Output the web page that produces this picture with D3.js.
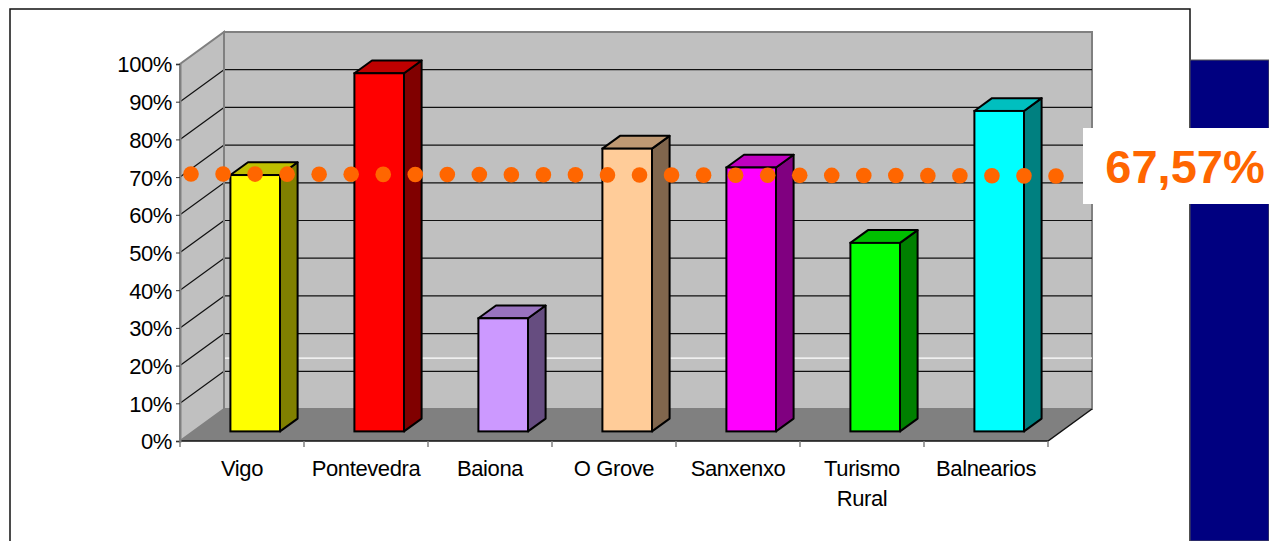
<!DOCTYPE html>
<html>
<head>
<meta charset="utf-8">
<script src="https://cdn.jsdelivr.net/npm/d3@7"></script>
<style>
  body { margin: 0; background: #fff; }
  svg { display: block; font-family: "Liberation Sans", Arial, sans-serif; }
</style>
</head>
<body>
<svg id="chart" width="1269" height="541"></svg>
<script>
const categories = ['Vigo', 'Pontevedra', 'Baiona', 'O Grove', 'Sanxenxo', 'Turismo Rural', 'Balnearios'];
const tickLabels = ['Vigo', 'Pontevedra', 'Baiona', 'O Grove', 'Sanxenxo', 'Turismo\nRural', 'Balnearios'];
const values = [0.68, 0.95, 0.30, 0.75, 0.70, 0.50, 0.85];
const faceColors = ['#FFFF00', '#FF0000', '#CC99FF', '#FFCC99', '#FF00FF', '#00FF00', '#00FFFF'];
const yTicks = [0, 0.1, 0.2, 0.3, 0.4, 0.5, 0.6, 0.7, 0.8, 0.9, 1];
const average = 0.6757;
const averageLabel = '67,57%';
const dotCount = 28;
const whiteLine = 0.135; // odd white rule on the back wall

function translate(x, y) {
    return `translate(${x}, ${y})`;
}

function shade(c, k) {
    const r = d3.rgb(c);
    return d3.rgb(r.r * k, r.g * k, r.b * k).formatHex();
}

const svg = d3.select('#chart');
const W = 1269, H = 541;

// 3d depth vector
const DX = 44, DY = -32;
const x = d3.scaleBand().domain(categories).range([180, 1048]).padding(0);
const y = d3.scaleLinear().domain([0, 1]).range([441, 64]);
const x0 = x.range()[0], x1 = x.range()[1];

// outer frame
svg.append('rect').attr('x', 10).attr('y', 9).attr('width', 1180).attr('height', H)
    .style('fill', 'none').style('stroke', '#111').style('stroke-width', 1.5);

// side wall
svg.append('polygon')
    .attr('points', [[x0, y(0)], [x0, y(1)], [x0 + DX, y(1) + DY], [x0 + DX, y(0) + DY]].join(' '))
    .style('fill', '#C0C0C0').style('stroke', '#808080').style('stroke-width', 2);

// back wall
svg.append('rect').attr('x', x0 + DX).attr('y', y(1) + DY)
    .attr('width', x1 - x0).attr('height', y(0) - y(1))
    .style('fill', '#C0C0C0').style('stroke', '#808080').style('stroke-width', 2);

// gridlines
const inner = yTicks.filter(d => d > 0 && d < 1);
svg.append('g').selectAll('line.back').data(inner).enter().append('line')
    .attr('x1', x0 + DX).attr('x2', x1 + DX)
    .attr('y1', d => y(d) + DY).attr('y2', d => y(d) + DY)
    .style('stroke', '#111').style('stroke-width', 1.2);
svg.append('g').selectAll('line.side').data(inner).enter().append('line')
    .attr('x1', x0).attr('x2', x0 + DX)
    .attr('y1', d => y(d)).attr('y2', d => y(d) + DY)
    .style('stroke', '#111').style('stroke-width', 1.2);
svg.append('line')
    .attr('x1', x0 + DX).attr('x2', x1 + DX)
    .attr('y1', y(whiteLine) + DY).attr('y2', y(whiteLine) + DY)
    .style('stroke', '#fff').style('stroke-width', 1.2);
// re-draw wall edge over the gridlines
svg.append('line').attr('x1', x0 + DX).attr('x2', x0 + DX).attr('y1', y(1) + DY).attr('y2', y(0) + DY)
    .style('stroke', '#808080').style('stroke-width', 2);

// floor
svg.append('polygon')
    .attr('points', [[x0, y(0)], [x1, y(0)], [x1 + DX, y(0) + DY], [x0 + DX, y(0) + DY]].join(' '))
    .style('fill', '#808080');
svg.append('polyline')
    .attr('points', [[x0, y(0)], [x1, y(0)], [x1 + DX, y(0) + DY]].join(' '))
    .style('fill', 'none').style('stroke', '#111').style('stroke-width', 1.5);

// y axis
const yAxis = svg.append('g').attr('transform', translate(x0, 0))
    .call(d3.axisLeft(y).tickValues(yTicks).tickFormat(d3.format('.0%')).tickSize(4).tickPadding(4));
yAxis.select('.domain').style('stroke', '#808080').style('stroke-width', 2);
yAxis.selectAll('.tick line').style('stroke', '#333');
yAxis.selectAll('.tick text')
    .style('font-size', '22px').style('letter-spacing', '-0.4px')
    .style('font-family', '"Liberation Sans", Arial, sans-serif').style('fill', '#000')
    .attr('dy', '0.36em');

// x axis: boundary ticks
const bounds = categories.map(c => x(c)).concat([x1]);
svg.append('g').selectAll('line').data(bounds).enter().append('line')
    .attr('x1', d => d).attr('x2', d => d).attr('y1', y(0)).attr('y2', y(0) + 6)
    .style('stroke', '#808080').style('stroke-width', 1.5);

// x labels
const xl = svg.append('g').attr('transform', translate(0, y(0)))
    .call(d3.axisBottom(x).tickSize(0).tickFormat(''));
xl.select('.domain').remove();
xl.selectAll('.tick').each(function(d, i) {
    const t = d3.select(this).append('text')
        .attr('y', 35)
        .style('text-anchor', 'middle')
        .style('font-size', '22px').style('letter-spacing', '-0.4px')
        .style('font-family', '"Liberation Sans", Arial, sans-serif').style('fill', '#000');
    tickLabels[i].split('\n').forEach((line, j) => {
        t.append('tspan').attr('x', 0).attr('dy', j === 0 ? 0 : 30).text(line);
    });
});

// bars
const d1 = 0.3, d2 = 0.7;
const bw = x.bandwidth();
const bars = svg.append('g').selectAll('g').data(categories).enter().append('g');
bars.each(function(c, i) {
    const g = d3.select(this);
    const v = values[i];
    const fx0 = x(c) + bw * 0.3 + d1 * DX, fx1 = fx0 + bw * 0.4;
    const yt = y(v) + d1 * DY, yb = y(0) + d1 * DY;
    const ex = (d2 - d1) * DX, ey = (d2 - d1) * DY;
    const col = faceColors[i];
    g.append('polygon')
        .attr('points', [[fx1, yt], [fx1 + ex, yt + ey], [fx1 + ex, yb + ey], [fx1, yb]].join(' '))
        .style('fill', shade(col, 0.5)).style('stroke', '#000').style('stroke-width', 2)
        .style('stroke-linejoin', 'round');
    g.append('polygon')
        .attr('points', [[fx0, yt], [fx1, yt], [fx1 + ex, yt + ey], [fx0 + ex, yt + ey]].join(' '))
        .style('fill', shade(col, 0.75)).style('stroke', '#000').style('stroke-width', 2)
        .style('stroke-linejoin', 'round');
    g.append('rect')
        .attr('x', fx0).attr('y', yt).attr('width', fx1 - fx0).attr('height', yb - yt)
        .style('fill', col).style('stroke', '#000').style('stroke-width', 2);
});

// average dotted line
const dotDepth = 0.385;
const dx = d3.scalePoint().domain(d3.range(dotCount)).range([x0 + 11, x1 + 8]);
svg.append('g').selectAll('circle').data(d3.range(dotCount)).enter().append('circle')
    .attr('cx', d => dx(d))
    .attr('cy', d => y(average) + dotDepth * DY + d / (dotCount - 1) * 2)
    .attr('r', 7.8)
    .style('fill', '#FF6600');

// navy block and value box
svg.append('rect').attr('x', 1190).attr('y', 60).attr('width', W - 1190).attr('height', H - 60)
    .style('fill', '#000080').style('stroke', '#555').style('stroke-width', 1);
svg.append('rect').attr('x', 1083).attr('y', 128).attr('width', W - 1083).attr('height', 76)
    .style('fill', '#fff');
svg.append('text')
    .attr('transform', translate(1185, 183))
    .style('text-anchor', 'middle')
    .style('font-size', '47px').style('font-weight', 'bold')
    .style('font-family', '"Liberation Sans", Arial, sans-serif')
    .style('fill', '#FF6600')
    .text(averageLabel);
</script>
</body>
</html>
